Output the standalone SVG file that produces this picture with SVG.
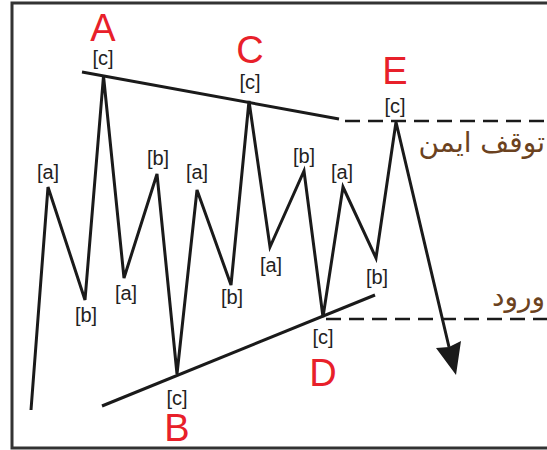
<svg xmlns="http://www.w3.org/2000/svg" width="547" height="450" viewBox="0 0 547 450">
<style>
.ln{fill:none;stroke:#1a1a1a;stroke-width:3;stroke-linejoin:miter;stroke-linecap:butt}
.dash{fill:none;stroke:#1a1a1a;stroke-width:2.5;stroke-dasharray:15 8}
.sm{font-family:"Liberation Sans",Arial,sans-serif;font-size:20px;fill:#222;text-anchor:middle}
.big{font-family:"Liberation Sans",Arial,sans-serif;font-size:38px;fill:#e8202a;text-anchor:middle}
.fa{font-family:"DejaVu Sans",sans-serif;font-size:28px;fill:#6b4220;text-anchor:end}
</style>
<rect x="12" y="3" width="547" height="445" fill="#fff" stroke="#333" stroke-width="3"/>
<g id="connectors">
<polyline class="ln" points="31,410 48,187 85,300 103.5,76 124,278 157,174 177,374 197,190 231,285 249,101 270,247 304,171 323,317 343,187 376,258 396,122 449,347"/>
<path d="M436,348 L456,375 L461,341 L449,347 z" fill="#1a1a1a"/>
<line class="ln" x1="82" y1="72" x2="339" y2="119"/>
<line class="ln" x1="102" y1="406" x2="375" y2="295"/>
<line class="dash" x1="345" y1="121" x2="547" y2="121"/>
<line class="dash" x1="326" y1="319" x2="547" y2="319"/>
</g>
<g id="A"><text class="big" x="103" y="41">A</text><text class="sm" x="103" y="65">[c]</text></g>
<g id="C"><text class="big" x="250" y="63">C</text><text class="sm" x="250" y="89">[c]</text></g>
<g id="E"><text class="big" x="395" y="84">E</text><text class="sm" x="395" y="113">[c]</text></g>
<g id="B"><text class="sm" x="177" y="405">[c]</text><text class="big" x="177" y="441">B</text></g>
<g id="D"><text class="sm" x="323" y="344">[c]</text><text class="big" x="323" y="386">D</text></g>
<g id="labels">
<text class="sm" x="48" y="179">[a]</text>
<text class="sm" x="86" y="322">[b]</text>
<text class="sm" x="126" y="300">[a]</text>
<text class="sm" x="158" y="165">[b]</text>
<text class="sm" x="197" y="179">[a]</text>
<text class="sm" x="232" y="304">[b]</text>
<text class="sm" x="271" y="272">[a]</text>
<text class="sm" x="304" y="163">[b]</text>
<text class="sm" x="342" y="179">[a]</text>
<text class="sm" x="377" y="284">[b]</text>
</g>
<g id="stop"><text class="fa" x="545" y="152">توقف ایمن</text></g>
<g id="entry"><text class="fa" x="545" y="306">ورود</text></g>
</svg>
